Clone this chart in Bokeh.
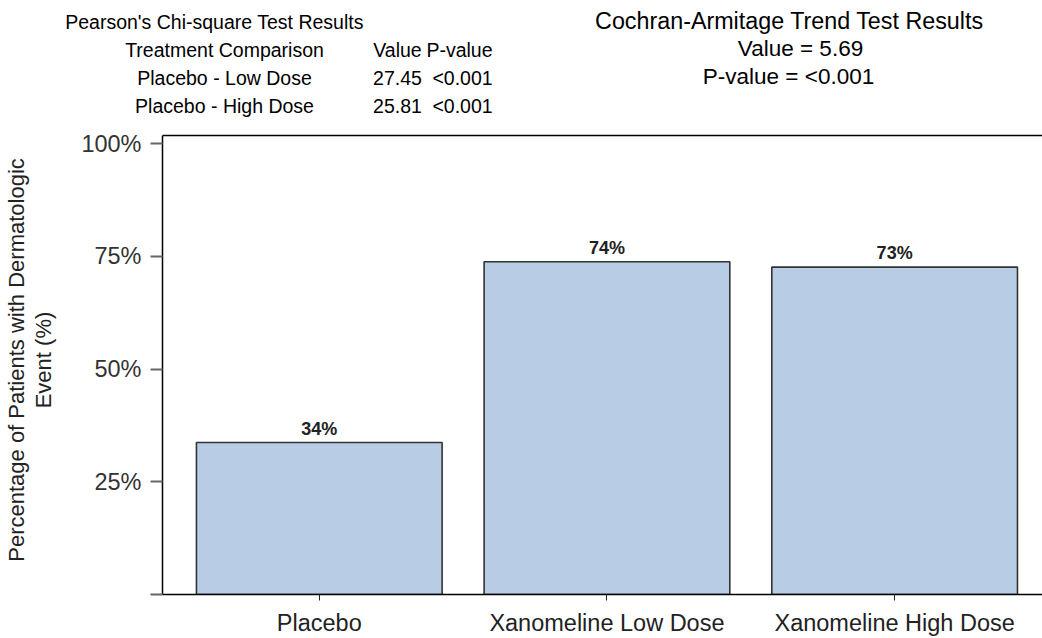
from bokeh.plotting import figure
from bokeh.models import Range1d, FixedTicker, Span
from bokeh.core.properties import value
from bokeh.embed import file_html
from bokeh.resources import INLINE

# ---- data ----
categories = ["Placebo", "Xanomeline Low Dose", "Xanomeline High Dose"]
pct_event = [33.7, 73.8, 72.6]
bar_labels = ["34%", "74%", "73%"]
y_ticks = [0, 25, 50, 75, 100]
y_tick_labels = ["", "25%", "50%", "75%", "100%"]

chi_title = "Pearson's Chi-square Test Results"
chi_columns = ["Treatment Comparison", "Value", "P-value"]
chi_comparisons = ["Placebo - Low Dose", "Placebo - High Dose"]
chi_values = ["27.45", "25.81"]
chi_pvalues = ["<0.001", "<0.001"]
trend_title = "Cochran-Armitage Trend Test Results"
trend_value = "5.69"
trend_pvalue = "<0.001"

FONT = "Liberation Sans"
W, H = 1042, 638
HEAD = 125                      # height of the header strip
LEFT, BOTTOM = 161, 44          # frame borders of the chart, pixels
X0, X1 = -0.545, 2.514          # category axis range
Y_AXIS_TOP = 101.8              # top of the drawn plot box
BOX_TOP = 135                   # page y of the box top line
Y1 = Y_AXIS_TOP * (H - BOTTOM - HEAD) / (H - BOTTOM - BOX_TOP)

xs = list(range(len(categories)))

# ---------------- header strip ----------------
hd = figure(width=W, height=HEAD, x_range=Range1d(0, W), y_range=Range1d(0, HEAD),
            x_axis_type=None, y_axis_type=None,
            output_backend="svg", toolbar_location=None,
            min_border_left=0, min_border_right=0, min_border_top=0, min_border_bottom=0)
hd.grid.visible = False
hd.outline_line_color = None
hd.border_fill_color = "white"

left_txt, left_x, left_y = [], [], []
def put_left(txt, px, baseline):
    left_txt.append(txt); left_x.append(px); left_y.append(HEAD - (baseline - 7))

put_left(chi_title, 214, 28)
put_left(chi_columns[0], 224, 56)
put_left(chi_columns[1], 397, 56)
put_left(chi_columns[2], 459, 56)
for i, (c, v, pv) in enumerate(zip(chi_comparisons, chi_values, chi_pvalues)):
    yb = 84 + 28 * i
    put_left(c, 224, yb)
    put_left(v, 397, yb)
    put_left(pv, 462, yb)

hd.text(x=left_x, y=left_y, text=left_txt, text_align="center",
        text_baseline="alphabetic", text_font=value(FONT),
        text_font_size="19.5px", text_color="black")

hd.text(x=[789], y=[HEAD - (28 - 8)], text=[trend_title], text_align="center",
        text_baseline="alphabetic", text_font=value(FONT),
        text_font_size="23.3px", text_color="black")
right_txt = ["Value = " + trend_value, "P-value = " + trend_pvalue]
right_x = [800, 788]
right_y = [HEAD - (b - 8) for b in (56, 84)]
hd.text(x=right_x, y=right_y, text=right_txt, text_align="center",
        text_baseline="alphabetic", text_font=value(FONT),
        text_font_size="22.5px", text_color="black")

# ---------------- chart ----------------
p = figure(width=W, height=H - HEAD,
           x_range=Range1d(X0, X1), y_range=Range1d(0, Y1),
           output_backend="svg", toolbar_location=None,
           min_border_left=LEFT, min_border_right=0,
           min_border_top=0, min_border_bottom=BOTTOM)
p.grid.visible = False
p.outline_line_color = None
p.background_fill_color = "white"
p.border_fill_color = "white"

p.vbar(x=xs, top=pct_event, width=0.854, fill_color="#B8CDE5",
       line_color="#333333", line_width=1.6)
p.text(x=xs, y=pct_event, text=bar_labels, text_align="center",
       text_baseline="alphabetic", y_offset=-14,
       text_font=value(FONT), text_font_size="18px", text_font_style="bold",
       text_color="#222222")

# top line of the plot box
p.add_layout(Span(location=Y_AXIS_TOP, dimension="width",
                  line_color="black", line_width=1.5))

# x axis
xa = p.xaxis[0]
xa.ticker = FixedTicker(ticks=xs)
xa.major_label_overrides = {i: c for i, c in zip(xs, categories)}
xa.major_label_text_font = FONT
xa.major_label_text_font_size = "23.5px"
xa.major_label_text_color = "#222222"
xa.major_label_standoff = 9
xa.major_tick_in = 0
xa.major_tick_out = 6
xa.major_tick_line_color = "#222222"
xa.minor_tick_line_color = None
xa.axis_line_color = "black"
xa.axis_line_width = 1.5

# y axis
ya = p.yaxis[0]
ya.bounds = (0, Y_AXIS_TOP)
ya.ticker = FixedTicker(ticks=y_ticks)
ya.major_label_overrides = {t: l for t, l in zip(y_ticks, y_tick_labels)}
ya.major_label_text_font = FONT
ya.major_label_text_font_size = "23.5px"
ya.major_label_text_color = "#333333"
ya.major_label_standoff = 9
ya.major_tick_in = 0
ya.major_tick_out = 12
ya.major_tick_line_color = "#666666"
ya.major_tick_line_width = 2
ya.minor_tick_line_color = None
ya.axis_line_color = "black"
ya.axis_line_width = 1.5
ya.axis_label = "Percentage of Patients with Dermatologic\nEvent (%)"
ya.axis_label_text_font = FONT
ya.axis_label_text_font_size = "22px"
ya.axis_label_text_font_style = "normal"
ya.axis_label_text_color = "#222222"
ya.axis_label_text_line_height = 1.1
ya.axis_label_standoff = 22

# two separate roots, stacked on the page (no frame alignment between them)
open("out.html", "w").write(file_html([hd, p], INLINE))
